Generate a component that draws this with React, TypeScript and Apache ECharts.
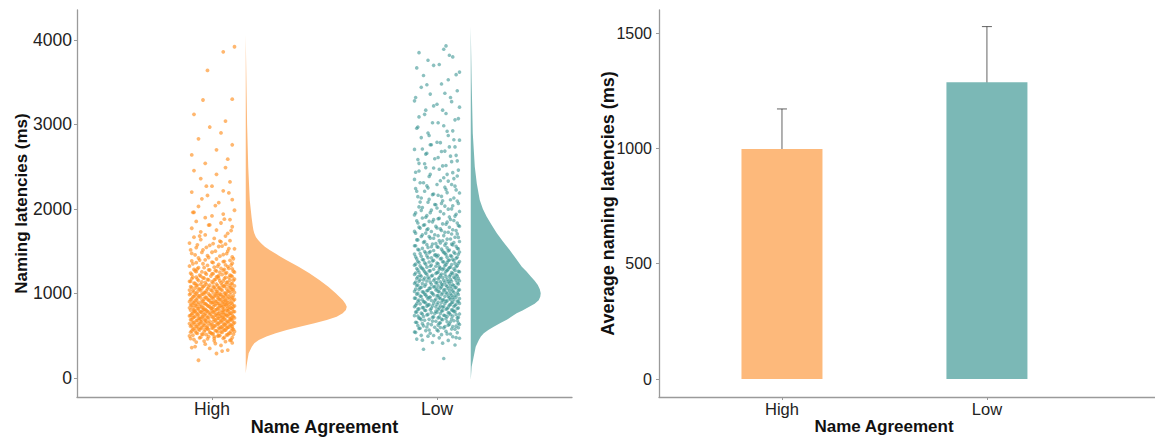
import React, { useEffect, useRef } from "react";
import * as echarts from "echarts";

// ---------- data ----------
const categories = ["High", "Low"];
const barMeans = [997, 1287];
const errLow = [825, 1046];
const errHigh = [1171, 1528];

const leftYTicks = [0, 1000, 2000, 3000, 4000];
const rightYTicks = [0, 500, 1000, 1500];

// violin outline: latency levels and half-width (in category units)
const highViolinLat = [4059, 3500, 3000, 2500, 2100, 1900, 1800, 1750, 1712, 1670, 1633, 1594, 1554, 1515, 1475, 1436, 1396, 1317, 1239, 1160, 1080, 1002, 923, 880, 844, 805, 765, 726, 686, 647, 607, 568, 529, 490, 450, 410, 370, 292, 200, 134, 55];
const highViolinWidth = [0, 0.003, 0.006, 0.011, 0.018, 0.026, 0.031, 0.034, 0.038, 0.045, 0.055, 0.068, 0.085, 0.106, 0.13, 0.155, 0.18, 0.235, 0.283, 0.327, 0.367, 0.4, 0.431, 0.443, 0.449, 0.445, 0.431, 0.404, 0.36, 0.305, 0.24, 0.182, 0.133, 0.092, 0.058, 0.038, 0.027, 0.013, 0.007, 0.003, 0];
const lowViolinLat = [4158, 3500, 2896, 2500, 2300, 2107, 2000, 1909, 1810, 1712, 1613, 1515, 1416, 1317, 1260, 1200, 1150, 1100, 1050, 1002, 960, 920, 880, 840, 800, 765, 727, 690, 650, 607, 568, 529, 490, 450, 371, 252, 134, -24];
const lowViolinWidth = [0, 0.004, 0.009, 0.018, 0.027, 0.04, 0.054, 0.071, 0.093, 0.116, 0.144, 0.173, 0.2, 0.227, 0.248, 0.267, 0.284, 0.298, 0.307, 0.311, 0.309, 0.302, 0.284, 0.258, 0.23, 0.204, 0.182, 0.16, 0.132, 0.102, 0.078, 0.058, 0.045, 0.036, 0.022, 0.013, 0.004, 0];

// raw points: [jitter (category units), latency ms]
const highPoints = [
  [-0.06,210],[0.02,290],[0.07,330],[-0.09,360],[0.04,385],[-0.03,400],[0.09,415],[-0.07,425],[0.01,440],[0.06,430],[-0.01,350],[0.08,445],
  [-0.08,455],[-0.02,462],[0.05,470],[0.09,478],[-0.05,483],[0.01,490],[-0.1,497],[0.03,503],[0.07,510],[-0.04,516],[0.0,522],[0.08,528],[-0.07,533],[-0.01,539],[0.04,545],[0.1,550],[-0.09,556],[0.02,561],[0.06,566],[-0.03,571],[-0.06,576],[0.05,580],[0.09,584],[-0.08,588],[0.0,591],[0.03,594],[-0.05,597],[0.07,599],[-0.02,585],[0.01,468],
  [0.04,603],[-0.07,607],[0.09,610],[-0.02,614],[0.01,617],[-0.09,621],[0.06,624],[-0.04,627],[0.08,631],[0.0,634],
  [-0.06,638],[0.03,641],[-0.1,644],[0.05,648],[-0.03,651],[0.1,655],[-0.08,658],[0.02,661],[-0.05,665],[0.07,668],
  [-0.01,671],[0.04,675],[-0.07,678],[0.09,681],[-0.03,685],[0.06,688],[-0.09,691],[0.01,695],[-0.05,698],[0.08,701],
  [0.03,705],[-0.06,708],[0.1,711],[-0.02,715],[0.05,718],[-0.08,721],[0.0,725],[-0.04,728],[0.07,731],[-0.1,735],
  [0.02,738],[0.09,741],[-0.06,745],[0.04,748],[-0.01,751],[0.06,755],[-0.09,758],[0.03,761],[-0.03,765],[0.08,768],
  [-0.07,771],[0.01,775],[0.05,778],[-0.05,781],[0.1,785],[-0.02,788],[-0.08,791],[0.07,794],[0.0,797],[-0.04,799],
  [0.05,803],[-0.08,806],[0.02,810],[-0.03,813],[0.09,817],[-0.06,820],[0.0,823],[0.07,827],[-0.1,830],[0.03,833],
  [-0.04,837],[0.08,840],[-0.01,843],[0.05,847],[-0.07,850],[0.1,853],[-0.02,857],[0.04,860],[-0.09,863],[0.06,867],
  [0.01,870],[-0.05,873],[0.09,877],[-0.03,880],[0.03,883],[-0.08,887],[0.07,890],[0.0,893],[-0.06,897],[0.05,900],
  [-0.1,903],[0.02,907],[0.08,910],[-0.04,913],[-0.01,917],[0.06,920],[-0.07,923],[0.04,927],[0.1,930],[-0.02,933],
  [-0.09,937],[0.03,940],[0.07,943],[-0.05,947],[0.0,950],[0.09,953],[-0.03,957],[0.05,960],[-0.08,963],[0.01,967],
  [0.06,970],[-0.06,973],[0.03,977],[-0.01,980],[0.08,983],[-0.1,987],[0.04,990],[-0.04,993],[0.02,996],[-0.07,999],
  [0.06,1004],[-0.03,1009],[0.1,1013],[-0.08,1018],[0.02,1022],[0.07,1027],[-0.05,1031],[0.0,1036],[-0.1,1040],[0.04,1045],
  [0.09,1049],[-0.02,1054],[-0.06,1058],[0.03,1063],[0.08,1067],[-0.09,1072],[0.01,1076],[-0.04,1081],[0.05,1085],[0.1,1090],
  [-0.07,1094],[-0.01,1099],[0.06,1103],[-0.05,1108],[0.02,1112],[0.09,1117],[-0.08,1121],[0.04,1126],[-0.03,1130],[0.07,1135],
  [0.0,1139],[-0.1,1144],[0.05,1148],[-0.06,1153],[0.08,1157],[0.01,1162],[-0.02,1166],[0.1,1171],[-0.09,1175],[0.03,1180],
  [-0.04,1184],[0.06,1189],[-0.07,1193],[0.02,1197],[0.09,1200],
  [-0.05,1205],[0.03,1212],[0.08,1218],[-0.09,1225],[0.0,1232],[0.06,1238],[-0.03,1245],[0.1,1252],[-0.07,1258],[0.02,1265],
  [0.05,1272],[-0.01,1278],[-0.08,1285],[0.09,1292],[0.04,1298],[-0.06,1305],[0.01,1312],[0.07,1318],[-0.1,1325],[-0.02,1332],
  [0.06,1338],[0.03,1345],[-0.04,1352],[0.09,1358],[-0.07,1365],[0.0,1372],[0.05,1378],[-0.09,1385],[0.08,1392],[-0.03,1398],
  [0.02,1408],[-0.06,1420],[0.09,1433],[-0.02,1447],[0.05,1461],[-0.09,1474],[0.0,1488],[0.07,1502],[-0.04,1515],[0.1,1529],
  [-0.07,1543],[0.03,1556],[-0.01,1570],[0.06,1584],[-0.1,1597],[0.04,1611],[0.08,1625],[-0.05,1638],[0.01,1652],[-0.08,1666],
  [0.06,1679],[-0.03,1693],
  [0.07,1712],[-0.05,1730],[0.02,1751],[-0.09,1772],[0.09,1790],[-0.01,1812],[0.04,1834],[-0.07,1853],[0.08,1875],[-0.03,1897],
  [0.0,1918],[0.05,1940],[-0.08,1961],[0.1,1985],
  [-0.06,2030],[0.03,2075],[0.09,2110],[-0.02,2160],[-0.09,2200],[0.05,2215],[0.0,2270],[0.08,2320],[-0.05,2360],[0.02,2410],
  [-0.08,2455],[0.06,2490],
  [-0.03,2540],[0.07,2590],[-0.09,2640],[0.02,2700],[0.09,2760],[-0.06,2830],[0.04,2900],[-0.01,2970],
  [0.06,3040],[-0.08,3120],[0.09,3300],[-0.04,3290],[-0.02,3640],[0.05,3860],[0.1,3920],
  // second pass
  [0.045,318],[-0.075,372],[0.015,408],[-0.035,437],[0.085,452],[-0.095,466],[0.055,481],[-0.015,489],[0.025,496],[-0.055,474],
  [0.035,502],[-0.085,506],[0.065,509],[-0.025,513],[0.095,517],[-0.045,520],[0.005,524],[-0.065,528],[0.075,531],[-0.005,535],
  [0.045,539],[-0.095,542],[0.025,546],[-0.035,550],[0.085,553],[-0.075,557],[0.015,561],[0.055,564],[-0.055,568],[-0.015,572],
  [0.095,575],[-0.085,579],[0.035,583],[0.065,586],[-0.045,590],[0.005,594],[-0.025,597],[0.075,601],[-0.065,605],[0.045,608],
  [-0.095,612],[0.015,616],[-0.035,619],[0.085,623],[-0.005,627],[0.055,630],[-0.075,634],[0.025,638],[-0.055,641],[0.095,645],
  [-0.015,649],[0.065,652],[-0.085,656],[0.035,660],[-0.045,663],[0.005,667],[0.075,671],[-0.025,674],[-0.065,678],[0.045,682],
  [0.015,685],[-0.095,689],[0.085,693],[-0.035,696],[0.055,699],
  [-0.055,702],[0.025,705],[0.085,708],[-0.015,711],[-0.085,714],[0.045,717],[0.005,720],[-0.045,723],[0.095,726],[-0.075,729],
  [0.035,732],[-0.025,735],[0.065,738],[-0.095,742],[0.015,745],[0.055,748],[-0.035,751],[-0.065,754],[0.075,757],[-0.005,760],
  [0.025,763],[-0.085,766],[0.085,769],[-0.045,772],[0.045,775],[-0.015,778],[0.005,782],[0.095,785],[-0.055,788],[-0.075,791],
  [0.035,794],[0.065,797],[-0.025,800],[-0.095,803],[0.015,806],[0.075,809],[-0.035,812],[0.055,815],[-0.065,818],[0.025,822],
  [-0.005,825],[0.085,828],[-0.085,831],[0.045,834],[-0.045,837],[0.005,840],[0.095,843],[-0.055,846],[-0.015,849],[0.065,852],
  [0.035,855],[-0.075,858],[0.015,862],[-0.095,865],[0.075,868],[-0.025,871],[0.055,874],[-0.065,877],[0.025,880],[-0.035,883],
  [0.085,886],[-0.005,889],[0.045,892],[-0.085,895],[0.005,898],
  [0.065,902],[-0.045,906],[0.015,909],[-0.075,913],[0.095,917],[-0.015,920],[0.035,924],[-0.095,928],[0.055,931],[-0.035,935],
  [0.005,939],[0.085,942],[-0.065,946],[0.025,950],[-0.025,953],[0.075,957],[-0.085,961],[0.045,964],[-0.005,968],[-0.055,972],
  [0.095,975],[0.015,979],[-0.075,983],[0.065,986],[-0.045,990],[0.035,994],[-0.015,997],[-0.095,1001],[0.055,1005],[0.005,1008],
  [-0.035,1012],[0.085,1016],[-0.065,1019],[0.025,1023],[0.075,1027],[-0.025,1030],[-0.085,1034],[0.045,1038],[-0.005,1041],[0.095,1045],
  [-0.055,1049],[0.015,1052],[0.065,1056],[-0.045,1060],[-0.075,1063],[0.035,1067],[0.085,1071],[-0.015,1074],[0.005,1078],[-0.095,1082],
  [0.055,1085],[-0.035,1089],[0.025,1093],[0.075,1096],[-0.065,1099],
  [0.045,1103],[-0.025,1109],[0.085,1114],[-0.075,1120],[0.005,1126],[0.065,1131],[-0.045,1137],[-0.095,1143],[0.035,1149],[0.095,1154],
  [-0.015,1160],[0.015,1166],[-0.065,1171],[0.055,1177],[-0.035,1183],[0.075,1189],[-0.085,1194],[0.025,1200],[-0.005,1206],[0.085,1211],
  [-0.055,1217],[0.045,1223],[-0.025,1229],[0.005,1234],[-0.095,1240],[0.065,1246],[0.035,1251],[-0.045,1257],[0.095,1263],[-0.075,1269],
  [0.015,1274],[-0.015,1280],[0.055,1286],[-0.065,1291],[0.075,1297],
  [-0.035,1306],[0.025,1321],[0.085,1336],[-0.085,1351],[0.005,1366],[0.055,1381],[-0.055,1396],[0.095,1411],[-0.015,1426],[0.035,1441],
  [-0.075,1456],[0.065,1471],[-0.045,1486],[0.015,1501],[-0.095,1516],[0.075,1531],[-0.025,1546],[0.045,1561],[-0.065,1576],[0.005,1591],
  [0.035,1620],[-0.055,1680],[0.085,1745],[-0.015,1810],[0.055,1880],[-0.085,1960],[0.015,2040],[-0.045,2120],[0.075,2190],[-0.025,2270]
];

const lowPoints = [
  [0.03,230],[-0.06,340],[0.08,390],[-0.02,420],[0.05,445],[-0.09,460],[0.01,475],[0.07,488],[-0.04,495],[0.1,470],
  [-0.07,505],[0.02,513],[0.06,521],[-0.03,529],[0.09,537],[-0.1,545],[0.04,553],[-0.05,561],[0.0,569],[0.08,577],
  [-0.08,585],[0.03,593],[-0.01,601],[0.07,609],[-0.06,617],[0.05,625],[0.1,633],[-0.04,641],[0.01,649],[-0.09,657],
  [0.06,665],[-0.02,673],[0.09,681],[-0.07,689],[0.02,697],
  [0.04,703],[-0.08,708],[0.09,713],[-0.02,718],[0.01,723],[-0.06,728],[0.07,733],[-0.1,738],[0.03,743],[0.06,748],
  [-0.04,753],[0.1,758],[-0.01,763],[-0.07,768],[0.05,773],[0.0,778],[-0.09,783],[0.08,788],[0.02,793],[-0.05,798],
  [0.07,803],[-0.03,808],[0.04,813],[-0.08,818],[0.09,823],[0.01,828],[-0.06,833],[0.05,838],[-0.1,843],[0.03,848],
  [-0.02,853],[0.08,858],[-0.04,863],[0.06,868],[0.0,873],[-0.09,878],[0.1,883],[-0.05,888],[0.02,893],[0.07,898],
  [-0.06,902],[0.04,907],[0.09,911],[-0.01,916],[-0.08,921],[0.03,926],[0.06,930],[-0.04,935],[0.1,940],[-0.1,945],
  [0.01,949],[0.07,954],[-0.03,959],[-0.07,964],[0.05,968],[0.0,973],[0.08,978],[-0.05,983],[0.02,987],[-0.09,992],
  [0.06,997],[-0.02,1002],[0.09,1006],[0.04,1011],[-0.06,1016],[0.01,1021],[-0.1,1025],[0.07,1030],[-0.04,1035],[0.03,1040],
  [0.1,1044],[-0.08,1049],[0.0,1054],[0.05,1059],[-0.03,1063],[0.08,1068],[-0.07,1073],[0.02,1078],[-0.01,1082],[0.06,1087],
  [-0.09,1092],[0.04,1097],
  [0.07,1103],[-0.05,1108],[0.02,1113],[-0.1,1119],[0.09,1124],[0.0,1129],[-0.03,1135],[0.05,1140],[-0.08,1145],[0.1,1151],
  [0.03,1156],[-0.06,1161],[0.06,1167],[-0.01,1172],[-0.09,1177],[0.08,1183],[0.01,1188],[-0.04,1193],[0.04,1199],[-0.07,1204],
  [0.09,1209],[-0.02,1215],[0.06,1220],[-0.1,1225],[0.02,1231],[0.07,1236],[-0.05,1241],[0.0,1247],[-0.08,1252],[0.1,1257],
  [0.04,1263],[-0.03,1268],[0.08,1273],[-0.06,1279],[0.01,1284],[0.05,1289],[-0.09,1295],[0.03,1299],
  [-0.07,1304],[0.06,1310],[0.01,1316],[-0.03,1323],[0.09,1329],[-0.1,1335],[0.04,1341],[-0.05,1348],[0.08,1354],[0.0,1360],
  [-0.08,1366],[0.03,1373],[0.1,1379],[-0.02,1385],[0.05,1391],[-0.06,1398],[0.07,1404],[-0.09,1410],[0.02,1416],[-0.04,1423],
  [0.09,1429],[0.0,1435],[-0.07,1441],[0.06,1448],[-0.01,1454],[0.04,1460],[-0.1,1466],[0.08,1473],[-0.05,1479],[0.03,1485],
  [0.1,1491],[-0.03,1497],
  [0.05,1505],[-0.08,1515],[0.02,1525],[0.09,1535],[-0.04,1545],[0.0,1555],[-0.1,1565],[0.07,1575],[-0.02,1585],[0.04,1595],
  [-0.06,1605],[0.1,1615],[0.01,1625],[-0.09,1635],[0.06,1645],[-0.03,1655],[0.08,1665],[-0.07,1675],[0.03,1685],[-0.01,1695],
  [0.09,1705],[-0.05,1715],[0.05,1725],[-0.1,1735],[0.02,1745],[0.07,1755],[-0.04,1765],[0.0,1775],[-0.08,1785],[0.1,1795],
  [-0.06,1807],[0.04,1820],[0.09,1834],[-0.02,1848],[-0.09,1861],[0.06,1875],[0.01,1889],[-0.05,1902],[0.08,1916],[-0.1,1930],
  [0.03,1943],[-0.03,1957],[0.1,1971],[-0.07,1984],[0.05,1998],[0.0,2012],[-0.08,2025],[0.07,2039],[-0.01,2053],[0.02,2066],
  [-0.04,2080],[0.09,2094],
  [0.06,2110],[-0.07,2130],[0.02,2150],[-0.02,2170],[0.1,2190],[-0.09,2210],[0.04,2230],[-0.04,2250],[0.08,2270],[0.0,2290],
  [-0.06,2310],[0.05,2330],[-0.1,2350],[0.03,2370],[0.09,2390],[-0.03,2410],[0.07,2430],[-0.08,2450],[0.01,2470],[-0.05,2490],
  [0.04,2515],[-0.08,2540],[0.09,2570],[-0.01,2595],[0.06,2625],[-0.05,2650],[0.02,2680],[-0.1,2705],[0.08,2735],[-0.03,2760],
  [0.0,2790],[0.1,2815],[-0.07,2845],[0.05,2870],[-0.04,2900],[0.07,2925],[-0.09,2955],[0.03,2985],
  [-0.02,3020],[0.08,3055],[-0.08,3090],[0.04,3130],[-0.05,3170],[0.1,3205],[0.0,3240],[-0.1,3280],[0.06,3320],[-0.03,3360],
  [0.09,3400],[-0.07,3440],[0.02,3480],
  [0.05,3530],[-0.06,3580],[0.1,3620],[-0.09,3670],[0.01,3710],[-0.04,3760],[0.07,3800],[-0.08,3850],[0.03,3890],[0.04,3930],
  // second pass
  [0.025,412],[-0.065,448],[0.085,478],[-0.015,503],[0.045,522],[-0.095,540],[0.005,556],[-0.035,568],[0.065,579],[-0.075,588],[0.095,594],[0.015,598],
  [-0.045,603],[0.035,609],[0.085,614],[-0.085,620],[0.005,626],[-0.025,631],[0.055,637],[-0.065,643],[0.095,649],[0.015,654],
  [-0.095,660],[0.045,666],[-0.005,671],[0.075,677],[-0.055,683],[0.025,689],[-0.035,694],[0.065,700],[-0.075,706],[0.005,711],
  [0.095,717],[-0.015,723],[0.045,729],[-0.085,734],[0.035,740],[-0.045,746],[0.085,751],[-0.065,757],[0.015,763],[0.055,769],
  [-0.025,774],[-0.095,780],[0.075,786],[-0.005,791],[0.025,797],
  [-0.055,802],[0.065,806],[0.005,811],[-0.085,815],[0.045,820],[-0.025,824],[0.095,829],[-0.065,833],[0.025,837],[-0.005,842],
  [0.075,846],[-0.045,851],[0.015,855],[-0.095,860],[0.055,864],[-0.035,868],[0.085,873],[-0.075,877],[0.035,882],[-0.015,886],
  [0.065,891],[0.005,895],[-0.055,900],[0.095,904],[-0.085,908],[0.045,913],[-0.025,917],[0.025,922],[-0.065,926],[0.075,931],
  [-0.005,935],[0.015,939],[-0.095,944],[0.055,948],[-0.035,953],[0.085,957],[-0.045,962],[0.035,966],[-0.075,971],[0.005,975],
  [0.065,979],[-0.015,984],[0.095,988],[-0.055,993],[0.045,997],
  [-0.085,1002],[0.025,1006],[-0.025,1011],[0.075,1015],[-0.065,1020],[0.005,1024],[0.055,1029],[-0.045,1033],[0.095,1037],[-0.005,1042],
  [0.035,1046],[-0.095,1051],[0.065,1055],[-0.035,1060],[0.015,1064],[-0.075,1068],[0.085,1073],[-0.015,1077],[0.045,1082],[-0.055,1086],
  [0.005,1091],[0.075,1095],[-0.085,1100],[0.025,1104],[-0.025,1108],[0.095,1113],[-0.065,1117],[0.055,1122],[-0.005,1126],[0.035,1131],
  [-0.095,1135],[0.015,1139],[0.065,1144],[-0.045,1148],[-0.015,1153],[0.085,1157],[-0.075,1162],[0.045,1166],[0.005,1171],[-0.035,1175],
  [0.095,1179],[-0.055,1184],[0.025,1188],[0.075,1193],[-0.085,1197],
  [0.055,1202],[-0.025,1207],[0.015,1212],[-0.075,1217],[0.085,1222],[-0.045,1227],[0.035,1232],[-0.005,1237],[-0.095,1242],[0.065,1247],
  [0.005,1252],[-0.055,1257],[0.095,1262],[-0.035,1267],[0.045,1272],[-0.085,1277],[0.025,1282],[-0.015,1287],[0.075,1292],[-0.065,1297],
  [0.015,1302],[0.055,1307],[-0.045,1312],[0.085,1317],[-0.005,1322],[-0.075,1327],[0.035,1332],[-0.025,1337],[0.065,1342],[-0.095,1347],
  [0.005,1352],[0.095,1357],[-0.055,1362],[0.045,1367],[-0.035,1372],[0.025,1377],[-0.085,1382],[0.075,1387],[-0.015,1392],[0.055,1397],
  [-0.065,1403],[0.015,1409],[0.085,1415],[-0.025,1422],[0.045,1428],[-0.095,1434],[0.065,1440],[-0.045,1447],[0.005,1453],[-0.005,1459],
  [0.095,1465],[-0.075,1472],[0.035,1478],[-0.035,1484],[0.075,1490],[-0.055,1497],[0.025,1503],[-0.015,1509],[0.055,1515],[-0.085,1522],
  [0.095,1528],[-0.065,1534],[0.045,1540],[0.005,1547],[-0.025,1553],[0.085,1559],[-0.095,1565],[0.035,1572],[-0.045,1578],[0.065,1584],
  [-0.005,1590],[0.015,1597],
  [0.075,1604],[-0.055,1614],[0.025,1624],[-0.085,1634],[0.045,1644],[-0.015,1654],[0.095,1664],[-0.035,1674],[0.005,1684],[-0.065,1694],
  [0.065,1704],[-0.095,1714],[0.035,1724],[-0.025,1734],[0.085,1744],[-0.045,1754],[0.015,1764],[-0.075,1774],[0.055,1784],[-0.005,1794],
  [0.095,1804],[-0.055,1814],[0.025,1824],[-0.085,1834],[0.045,1844],[-0.035,1854],[0.075,1864],[-0.015,1874],[0.005,1884],[-0.065,1894],
  [0.055,1906],[-0.045,1922],[0.085,1938],[-0.095,1954],[0.015,1970],[-0.025,1986],[0.065,2002],[-0.065,2018],[0.035,2034],[-0.005,2050],
  [0.095,2066],[-0.075,2082],[0.025,2098],[-0.035,2114],[0.075,2130],[-0.085,2146],[0.005,2162],[-0.015,2178],[0.045,2194],[-0.055,2210],
  [0.085,2226],[-0.095,2242],[0.035,2258],[-0.045,2274],[0.065,2290],
  [-0.075,2310],[0.015,2335],[0.075,2360],[-0.035,2385],[0.045,2410],[-0.095,2435],[0.095,2460],[-0.015,2485],[0.025,2510],[-0.055,2535],
  [0.065,2560],[-0.085,2585],[0.005,2610],[0.085,2635],[-0.045,2660],[0.035,2685],[-0.065,2710],[0.055,2735],[-0.025,2760],[0.015,2785],
  [0.075,2820],[-0.035,2870],[0.045,2920],[-0.085,2970],[0.005,3020],[0.095,3070],[-0.055,3120],[0.025,3170],[-0.015,3220],[0.065,3270],
  [-0.095,3320],[0.035,3370],
  [-0.045,3470],[0.085,3590],[-0.015,3700],[0.055,3820]
];

// ---------- styling ----------
const FONT = "'Liberation Sans', Arial, Helvetica, sans-serif";
const ORANGE_PT = "#FF8A17";
const TEAL_PT = "#2B8C8B";
const ORANGE_FILL = "#FDB97B";
const TEAL_FILL = "#7BB8B6";
const AXIS_COLOR = "#9a9a9a";
const VIOLIN_OFFSET = 0.15;

function violinData(center: number, lat: number[], width: number[]) {
  return lat.map((v, i) => [center + VIOLIN_OFFSET + width[i], v]);
}

function violinSeries(data: number[][], color: string) {
  return {
    type: "custom",
    xAxisIndex: 0,
    yAxisIndex: 0,
    clip: false,
    encode: { x: 0, y: 1 },
    data,
    renderItem: (params: any, api: any) => {
      if (params.dataIndex !== 0) return null;
      const pts = data.map((d) => api.coord(d));
      return {
        type: "polygon",
        shape: { points: pts },
        style: { fill: color, stroke: null },
      };
    },
  };
}

function axisLineStyle() {
  return { show: true, onZero: false, lineStyle: { color: AXIS_COLOR, width: 1.3 } };
}

function tickStyle(values: number[]) {
  return { show: true, length: 3, customValues: values, lineStyle: { color: AXIS_COLOR, width: 1 } };
}

export default function App() {
  const ref = useRef<HTMLDivElement>(null);
  useEffect(() => {
    if (!ref.current) return;
    const chart = echarts.init(ref.current, null, { renderer: "svg" });
    const label = (size: number) => ({ fontFamily: FONT, fontSize: size, color: "#222" });
    const bold = (size: number) => ({ fontFamily: FONT, fontSize: size, fontWeight: "bold", color: "#111" });

    const xCommon = (max: number, labelSize: number, nameSize: number, pad: number[]) => ({
      type: "value",
      min: 0.4,
      max,
      axisLine: axisLineStyle(),
      axisTick: tickStyle([1, 2]),
      splitLine: { show: false },
      axisLabel: {
        customValues: [1, 2],
        margin: 3,
        ...label(labelSize),
        formatter: (v: number) => categories[Math.round(v) - 1] ?? "",
      },
      name: "Name Agreement",
      nameLocation: "middle",
      nameGap: 21,
      nameMoveOverlap: false,
      nameTextStyle: { ...bold(nameSize), padding: pad },
    });

    chart.setOption({
      animation: false,
      grid: [
        { left: 77, top: 10, width: 495, height: 387, outerBoundsMode: "none", containLabel: false },
        { left: 659, top: 10, width: 496, height: 387, outerBoundsMode: "none", containLabel: false },
      ],
      xAxis: [
        { gridIndex: 0, ...xCommon(2.6, 17.5, 18, [0, 0, 0, 0]) },
        { gridIndex: 1, ...xCommon(2.82, 16.5, 17, [0, 46, 0, 0]) },
      ],
      yAxis: [
        {
          gridIndex: 0,
          type: "value",
          min: -225,
          max: 4355,
          axisLine: axisLineStyle(),
          axisTick: tickStyle(leftYTicks),
          splitLine: { show: false },
          axisLabel: { customValues: leftYTicks, margin: 5, ...label(17.5), formatter: (v: number) => String(v) },
          name: "Naming latencies (ms)",
          nameLocation: "middle",
          nameGap: 47,
          nameMoveOverlap: false,
          nameTextStyle: bold(17),
        },
        {
          gridIndex: 1,
          type: "value",
          min: -78,
          max: 1600,
          axisLine: axisLineStyle(),
          axisTick: tickStyle(rightYTicks),
          splitLine: { show: false },
          axisLabel: { customValues: rightYTicks, margin: 7, ...label(16), formatter: (v: number) => String(v) },
          name: "Average naming latencies (ms)",
          nameLocation: "middle",
          nameGap: 42,
          nameMoveOverlap: false,
          nameTextStyle: bold(18),
        },
      ],
      series: [
        violinSeries(violinData(1, highViolinLat, highViolinWidth), ORANGE_FILL),
        violinSeries(violinData(2, lowViolinLat, lowViolinWidth), TEAL_FILL),
        {
          type: "scatter",
          xAxisIndex: 0,
          yAxisIndex: 0,
          symbolSize: 3.8,
          itemStyle: { color: ORANGE_PT, opacity: 0.62 },
          data: highPoints.map(([j, v]) => [1 + j, v]),
        },
        {
          type: "scatter",
          xAxisIndex: 0,
          yAxisIndex: 0,
          symbolSize: 3.6,
          itemStyle: { color: TEAL_PT, opacity: 0.55 },
          data: lowPoints.map(([j, v]) => [2 + j, v]),
        },
        {
          type: "bar",
          xAxisIndex: 1,
          yAxisIndex: 1,
          barWidth: 81,
          data: barMeans.map((v, i) => ({
            value: [i + 1, v],
            itemStyle: { color: i === 0 ? ORANGE_FILL : TEAL_FILL },
          })),
        },
        {
          type: "custom",
          xAxisIndex: 1,
          yAxisIndex: 1,
          encode: { x: 0, y: [1, 2] },
          data: barMeans.map((_, i) => [i + 1, errLow[i], errHigh[i]]),
          renderItem: (params: any, api: any) => {
            const x = api.value(0);
            const top = api.coord([x, api.value(2)]);
            const bot = api.coord([x, api.value(1)]);
            const st = { stroke: "#222", lineWidth: 1, opacity: 0.7 };
            return {
              type: "group",
              children: [
                { type: "line", shape: { x1: top[0], y1: top[1], x2: bot[0], y2: bot[1] }, style: st },
                { type: "line", shape: { x1: top[0] - 5, y1: top[1], x2: top[0] + 5, y2: top[1] }, style: st },
                { type: "line", shape: { x1: bot[0] - 5, y1: bot[1], x2: bot[0] + 5, y2: bot[1] }, style: st },
              ],
            };
          },
        },
      ],
    });
    return () => chart.dispose();
  }, []);
  return (
    <div
      ref={ref}
      style={{ position: "fixed", left: 0, top: 0, width: 1155, height: 441, background: "#fff" }}
    />
  );
}
